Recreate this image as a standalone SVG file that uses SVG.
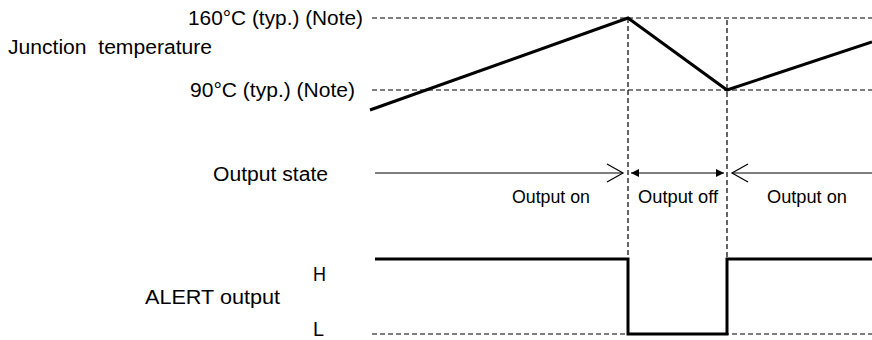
<svg xmlns="http://www.w3.org/2000/svg" width="872" height="340" viewBox="0 0 872 340">
<style>
text{font-family:"Liberation Sans",Arial,sans-serif;fill:#000}
.big{font-size:20px}
.sm{font-size:17.5px}
.dash{stroke:#000;stroke-width:1.2;stroke-dasharray:5,3;fill:none}
.thick{stroke:#000;stroke-width:3;fill:none;stroke-linejoin:miter}
.thin{stroke:#000;stroke-width:1.2;fill:none}
</style>
<defs>
<marker id="fa" viewBox="0 0 10 10" refX="10" refY="5" markerWidth="8" markerHeight="8" markerUnits="userSpaceOnUse" orient="auto-start-reverse">
<path d="M0,0 L10,5 L0,10 Z" fill="#000"/>
</marker>
</defs>
<rect width="872" height="340" fill="#fff"/>
<g id="labels">
<text class="big" x="188" y="25" textLength="175" lengthAdjust="spacingAndGlyphs">160°C (typ.) (Note)</text>
<text class="big" x="8" y="54" xml:space="preserve" textLength="204" lengthAdjust="spacingAndGlyphs">Junction  temperature</text>
<text class="big" x="190" y="97" textLength="165" lengthAdjust="spacingAndGlyphs">90°C (typ.) (Note)</text>
<text class="big" x="213" y="181" textLength="115" lengthAdjust="spacingAndGlyphs">Output state</text>
<text class="big" x="313" y="281" textLength="13" lengthAdjust="spacingAndGlyphs">H</text>
<text class="big" x="145" y="304" textLength="135" lengthAdjust="spacingAndGlyphs">ALERT output</text>
<text class="big" x="313" y="336" textLength="11" lengthAdjust="spacingAndGlyphs">L</text>
</g>
<g id="state-labels">
<text class="sm" x="512" y="203" textLength="78" lengthAdjust="spacingAndGlyphs">Output on</text>
<text class="sm" x="638" y="203" textLength="80" lengthAdjust="spacingAndGlyphs">Output off</text>
<text class="sm" x="767" y="203" textLength="80" lengthAdjust="spacingAndGlyphs">Output on</text>
</g>
<g id="guides">
<line class="dash" x1="372" y1="18" x2="872" y2="18"/>
<line class="dash" x1="372" y1="90" x2="872" y2="90"/>
<line class="dash" x1="372" y1="334" x2="872" y2="334"/>
<line class="dash" x1="628" y1="18" x2="628" y2="334"/>
<line class="dash" x1="727" y1="20" x2="727" y2="334"/>
</g>
<g id="junction-temperature">
<polyline class="thick" points="370,110 628,18 727,90 872,42"/>
</g>
<g id="alert-output">
<polyline class="thick" points="375,259 628,259 628,334 727,334 727,259 872,259"/>
</g>
<g id="connectors">
<line class="thin" x1="375" y1="173" x2="623" y2="173"/>
<polyline class="thin" points="607,164 623,173 607,182"/>
<line class="thin" x1="631" y1="173" x2="724" y2="173" marker-start="url(#fa)" marker-end="url(#fa)"/>
<line class="thin" x1="732" y1="173" x2="872" y2="173"/>
<polyline class="thin" points="748,164 732,173 748,182"/>
</g>
</svg>
